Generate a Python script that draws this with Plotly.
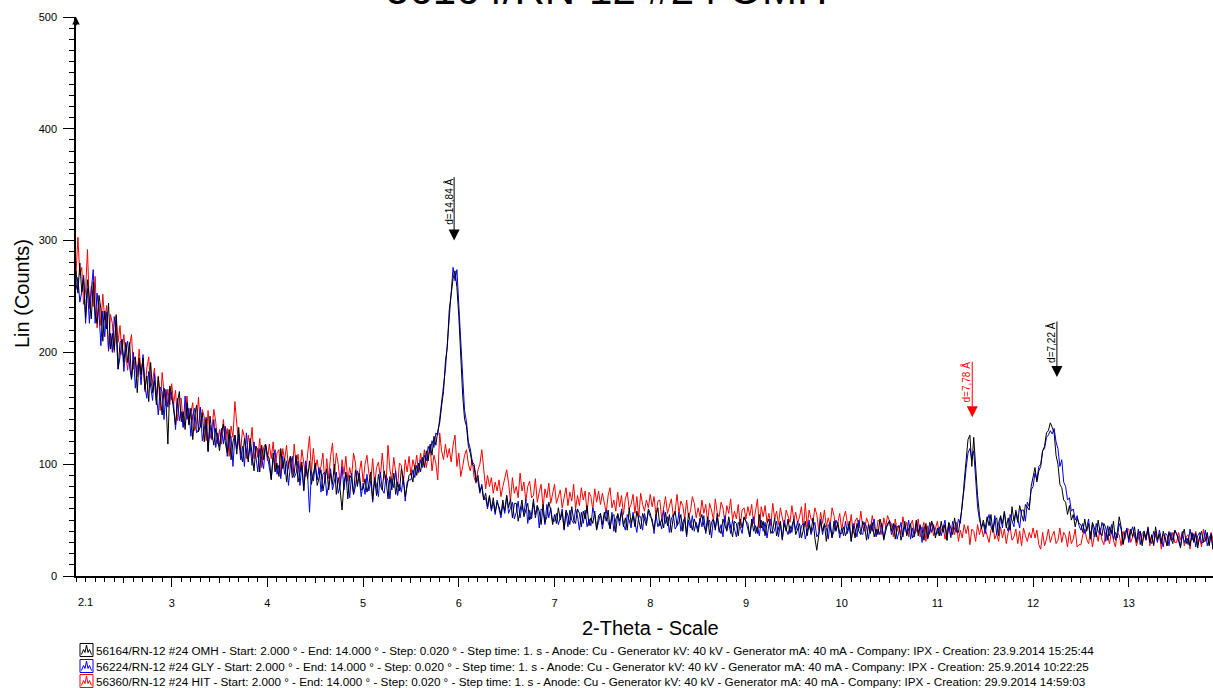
import math
import plotly.graph_objects as go

# ---------------- data ----------------
START = 2.0          # deg 2-theta
STEP = 0.02          # deg
X_RANGE = [2.0, 13.88]
Y_RANGE = [0, 500]

X_TICK_VALUES = [3, 4, 5, 6, 7, 8, 9, 10, 11, 12, 13]
X_TICK_LABELS = ["3", "4", "5", "6", "7", "8", "9", "10", "11", "12", "13"]
X_FIRST_TICK = 2.1
X_FIRST_LABEL = "2.1"
X_HALF_TICKS = [2.5, 3.5, 4.5, 5.5, 6.5, 7.5, 8.5, 9.5, 10.5, 11.5, 12.5, 13.5]
Y_TICK_VALUES = [0, 100, 200, 300, 400, 500]
Y_TICK_LABELS = ["0", "100", "200", "300", "400", "500"]

OMH = [
    273, 253, 280, 254, 266, 231, 265, 250, 230, 263, 235, 226, 251, 239, 210, 237, 221, 244, 203, 217, 202, 233, 185, 209, 211,
    191, 209, 191, 209, 176, 193, 196, 164, 195, 180, 195, 167, 179, 156, 191, 164, 175, 153, 178, 159, 144, 168, 157, 118, 170,
    162, 146, 135, 155, 165, 138, 147, 131, 155, 135, 150, 122, 143, 153, 129, 134, 146, 120, 140, 112, 143, 128, 117, 132, 120,
    112, 129, 136, 119, 110, 131, 104, 120, 126, 109, 133, 110, 102, 123, 113, 102, 123, 107, 94, 116, 113, 93, 117, 104, 118,
    108, 105, 86, 110, 93, 101, 89, 114, 96, 105, 84, 101, 107, 88, 92, 108, 84, 94, 102, 77, 98, 87, 103, 82, 93,
    101, 81, 89, 95, 76, 85, 96, 77, 92, 82, 100, 73, 88, 77, 59, 83, 93, 69, 90, 87, 73, 95, 80, 92, 77,
    78, 87, 75, 82, 93, 68, 88, 72, 91, 81, 77, 94, 86, 69, 89, 77, 92, 73, 84, 76, 96, 87, 71, 79, 90,
    92, 84, 99, 90, 101, 93, 106, 97, 112, 103, 118, 108, 125, 117, 130, 137, 152, 165, 192, 205, 238, 250, 266, 273, 258,
    232, 196, 162, 140, 134, 116, 110, 100, 98, 84, 90, 76, 80, 68, 74, 62, 72, 60, 70, 57, 66, 62, 55, 68, 58,
    72, 61, 69, 52, 65, 65, 49, 58, 68, 53, 60, 65, 50, 55, 69, 52, 63, 58, 46, 64, 48, 53, 66, 59, 46,
    55, 47, 61, 50, 57, 42, 59, 54, 46, 62, 50, 47, 60, 56, 44, 58, 51, 63, 45, 52, 47, 58, 41, 54, 56,
    46, 57, 49, 59, 42, 53, 55, 39, 56, 49, 58, 44, 52, 41, 61, 47, 54, 44, 58, 49, 42, 56, 51, 45, 60,
    56, 48, 42, 54, 61, 45, 51, 43, 57, 45, 55, 39, 52, 58, 45, 48, 55, 40, 53, 37, 56, 48, 41, 51, 44,
    39, 50, 55, 45, 40, 53, 37, 48, 51, 41, 56, 42, 38, 51, 46, 40, 53, 42, 35, 49, 47, 36, 51, 43, 53,
    49, 47, 35, 51, 40, 45, 38, 55, 43, 49, 36, 47, 51, 38, 41, 52, 36, 44, 49, 33, 47, 40, 51, 38, 45,
    51, 37, 43, 47, 34, 41, 49, 36, 46, 39, 52, 34, 23, 36, 49, 40, 47, 31, 46, 44, 34, 49, 40, 48, 38,
    38, 44, 36, 41, 49, 31, 45, 34, 47, 40, 37, 49, 44, 32, 46, 38, 48, 35, 42, 37, 51, 45, 33, 39, 47,
    49, 40, 47, 33, 44, 45, 32, 39, 49, 36, 42, 47, 34, 37, 50, 36, 45, 42, 32, 47, 34, 39, 49, 44, 34,
    43, 36, 49, 39, 46, 32, 48, 43, 37, 52, 41, 39, 51, 62, 84, 104, 122, 126, 98, 124, 96, 72, 55, 42, 50,
    42, 53, 45, 55, 39, 50, 52, 36, 54, 47, 57, 43, 52, 41, 62, 49, 57, 48, 63, 55, 49, 64, 61, 59, 80,
    88, 97, 84, 94, 98, 112, 116, 128, 130, 137, 133, 128, 108, 100, 82, 79, 68, 66, 55, 63, 50, 55, 44, 52, 47,
    46, 39, 51, 40, 47, 33, 48, 43, 35, 50, 39, 36, 47, 43, 32, 44, 38, 49, 32, 39, 53, 44, 28, 40, 41,
    33, 42, 35, 44, 30, 38, 40, 27, 40, 34, 42, 30, 37, 27, 44, 33, 37, 29, 40, 33, 27, 39, 34, 29, 41,
    38, 31, 26, 36, 42, 29, 34, 27, 39, 30, 38, 25, 35, 40, 30, 32, 39, 27, 37, 24, 40, 33, 28, 36, 31,
]

GLY = [
    256, 267, 245, 254, 269, 226, 257, 226, 256, 274, 226, 253, 236, 206, 237, 214, 236, 202, 217, 200, 232, 215, 185, 196, 212,
    183, 202, 210, 187, 176, 200, 168, 187, 191, 171, 198, 170, 159, 183, 170, 157, 181, 159, 144, 169, 165, 140, 167, 151, 167,
    158, 154, 131, 159, 139, 147, 133, 161, 140, 150, 125, 144, 150, 128, 131, 151, 121, 133, 142, 111, 135, 122, 140, 115, 128,
    116, 132, 118, 134, 107, 122, 125, 98, 126, 114, 127, 104, 116, 98, 128, 106, 116, 99, 120, 105, 93, 114, 106, 96, 118,
    109, 97, 87, 105, 113, 91, 99, 87, 107, 91, 103, 81, 99, 107, 88, 92, 103, 81, 99, 76, 103, 90, 57, 94, 85,
    99, 86, 97, 75, 91, 93, 72, 82, 96, 77, 85, 93, 74, 80, 98, 77, 91, 86, 70, 92, 73, 80, 94, 87, 71,
    83, 73, 91, 76, 85, 66, 88, 81, 71, 93, 77, 74, 90, 85, 69, 87, 79, 94, 72, 82, 75, 89, 67, 84, 86,
    86, 95, 88, 99, 93, 104, 97, 108, 103, 116, 110, 121, 115, 128, 126, 140, 155, 172, 185, 208, 230, 258, 276, 264, 274,
    242, 214, 178, 148, 138, 120, 114, 102, 100, 88, 85, 74, 82, 68, 70, 60, 71, 58, 66, 55, 68, 59, 52, 64, 56,
    72, 56, 61, 66, 51, 57, 67, 52, 63, 55, 69, 47, 59, 51, 65, 55, 63, 43, 60, 58, 46, 64, 52, 61, 49,
    49, 56, 46, 52, 60, 41, 57, 44, 59, 50, 47, 60, 54, 41, 57, 47, 59, 44, 51, 45, 61, 54, 42, 48, 56,
    42, 53, 59, 48, 43, 57, 40, 51, 55, 45, 60, 46, 41, 55, 50, 43, 57, 47, 39, 54, 53, 41, 56, 48, 58,
    53, 51, 38, 55, 44, 49, 42, 59, 47, 53, 39, 51, 55, 42, 45, 57, 40, 48, 52, 35, 50, 43, 54, 40, 48,
    42, 52, 44, 54, 38, 48, 50, 34, 51, 43, 52, 39, 46, 35, 54, 41, 48, 38, 50, 42, 35, 48, 44, 38, 52,
    49, 41, 35, 47, 53, 38, 44, 36, 50, 40, 48, 34, 46, 51, 38, 41, 49, 35, 47, 32, 50, 42, 37, 45, 39,
    50, 41, 49, 34, 45, 47, 33, 40, 50, 37, 43, 48, 35, 38, 51, 37, 46, 43, 33, 48, 35, 40, 50, 45, 34,
    43, 36, 49, 38, 45, 31, 47, 42, 35, 50, 39, 37, 48, 44, 33, 46, 40, 51, 35, 42, 37, 47, 32, 44, 45,
    50, 37, 42, 46, 33, 40, 48, 35, 45, 38, 50, 33, 43, 35, 48, 39, 46, 30, 44, 43, 33, 48, 39, 46, 37,
    38, 44, 36, 42, 50, 32, 46, 35, 49, 42, 39, 51, 47, 66, 78, 96, 110, 114, 104, 112, 86, 62, 50, 44, 47,
    38, 49, 55, 44, 40, 54, 37, 48, 53, 43, 58, 45, 40, 55, 50, 44, 59, 50, 43, 59, 59, 49, 66, 62, 77,
    80, 92, 86, 98, 100, 112, 114, 124, 126, 130, 127, 132, 120, 114, 98, 104, 84, 80, 68, 70, 58, 60, 50, 54, 45,
    41, 47, 38, 43, 51, 33, 46, 35, 47, 40, 37, 48, 43, 31, 45, 36, 46, 33, 39, 34, 47, 42, 29, 35, 43,
    30, 39, 44, 35, 31, 42, 28, 38, 40, 32, 44, 33, 29, 40, 36, 30, 41, 32, 26, 38, 37, 27, 39, 32, 41,
    37, 35, 25, 39, 30, 34, 28, 42, 32, 38, 26, 36, 39, 29, 31, 41, 27, 34, 38, 24, 36, 31, 40, 28, 35,
]

HIT = [
    270, 303, 269, 276, 243, 255, 292, 239, 259, 241, 268, 222, 244, 224, 252, 229, 242, 201, 234, 226, 200, 234, 209, 224, 198,
    216, 198, 184, 206, 216, 185, 196, 178, 203, 180, 195, 165, 186, 196, 169, 174, 186, 157, 179, 148, 182, 164, 152, 167, 153,
    172, 154, 166, 139, 158, 159, 133, 144, 161, 136, 146, 155, 130, 137, 160, 133, 149, 142, 121, 148, 123, 131, 149, 138, 118,
    131, 118, 140, 122, 132, 107, 134, 124, 156, 136, 118, 112, 131, 124, 105, 126, 115, 133, 105, 116, 106, 123, 97, 115, 118,
    103, 118, 105, 120, 96, 110, 113, 90, 114, 104, 117, 96, 107, 91, 118, 99, 109, 93, 113, 100, 89, 109, 125, 93, 114,
    95, 104, 91, 98, 110, 83, 105, 87, 107, 119, 91, 110, 100, 82, 104, 91, 107, 85, 97, 88, 110, 101, 82, 91, 103,
    84, 100, 108, 92, 85, 105, 81, 97, 102, 88, 110, 90, 83, 117, 95, 86, 106, 91, 80, 101, 99, 82, 104, 93, 107,
    90, 104, 96, 108, 92, 110, 99, 113, 97, 106, 116, 94, 108, 101, 86, 128, 112, 104, 118, 106, 114, 102, 117, 126, 98,
    110, 89, 98, 108, 113, 100, 94, 104, 88, 83, 95, 100, 113, 92, 78, 90, 80, 88, 74, 84, 76, 86, 71, 80, 88,
    95, 83, 67, 88, 74, 80, 70, 92, 76, 84, 67, 80, 85, 70, 72, 87, 66, 75, 82, 61, 78, 70, 83, 65, 75,
    82, 65, 72, 77, 61, 69, 79, 63, 75, 67, 82, 60, 72, 63, 79, 68, 76, 56, 75, 71, 59, 78, 66, 76, 64,
    74, 65, 57, 72, 79, 61, 68, 58, 75, 62, 72, 55, 69, 75, 60, 64, 73, 56, 71, 52, 74, 64, 58, 68, 61,
    73, 62, 71, 54, 67, 68, 51, 60, 71, 56, 63, 69, 54, 58, 73, 56, 67, 63, 51, 68, 53, 58, 71, 65, 52,
    61, 53, 68, 56, 64, 48, 65, 59, 50, 69, 56, 53, 66, 61, 48, 63, 56, 69, 50, 58, 51, 64, 45, 59, 61,
    51, 62, 54, 64, 47, 58, 69, 43, 62, 53, 63, 48, 56, 45, 65, 51, 58, 46, 61, 52, 44, 59, 54, 48, 63,
    50, 57, 47, 53, 62, 42, 65, 44, 59, 51, 48, 61, 55, 41, 57, 47, 59, 44, 52, 45, 61, 54, 41, 48, 56,
    41, 52, 58, 47, 42, 55, 38, 49, 52, 43, 58, 44, 40, 52, 47, 41, 54, 44, 36, 50, 48, 37, 52, 44, 54,
    49, 47, 35, 51, 40, 45, 37, 53, 42, 48, 35, 46, 50, 37, 40, 51, 35, 43, 48, 31, 45, 38, 49, 36, 43,
    49, 36, 41, 45, 33, 39, 47, 34, 44, 37, 48, 31, 41, 34, 46, 38, 45, 28, 42, 40, 31, 46, 37, 44, 35,
    42, 35, 30, 41, 46, 33, 38, 31, 44, 34, 42, 29, 39, 44, 32, 35, 42, 29, 40, 27, 43, 36, 31, 39, 34,
    43, 34, 41, 28, 24, 39, 27, 33, 42, 30, 36, 40, 29, 32, 43, 30, 39, 36, 26, 40, 29, 33, 42, 26, 28,
    28, 37, 42, 33, 29, 40, 26, 36, 39, 31, 43, 32, 28, 39, 35, 29, 41, 32, 26, 38, 37, 27, 40, 33, 42,
    42, 30, 35, 39, 27, 33, 40, 29, 37, 32, 43, 27, 36, 28, 40, 32, 38, 24, 37, 35, 27, 40, 32, 39, 30,
    30, 39, 32, 40, 27, 35, 37, 24, 38, 32, 40, 28, 35, 26, 42, 31, 36, 28, 39, 32, 26, 38, 34, 29, 41,
]

assert len(OMH) == 600 and len(GLY) == 600 and len(HIT) == 600, (len(OMH), len(GLY), len(HIT))

SERIES_NAMES = ["56164/RN-12 #24 OMH", "56224/RN-12 #24 GLY", "56360/RN-12 #24 HIT"]
SERIES_COLORS = ["#000000", "#0000ff", "#ff0000"]
CREATION = ["23.9.2014 15:25:44", "25.9.2014 10:22:25", "29.9.2014 14:59:03"]
META = ("Start: 2.000 ° - End: 14.000 ° - Step: 0.020 ° - Step time: 1. s - Anode: Cu - "
        "Generator kV: 40 kV - Generator mA: 40 mA - Company: IPX - Creation: ")

WAVELENGTH = 1.5406  # Cu K-alpha, Angstrom
PEAK_D = [14.84, 7.22, 7.78]
PEAK_LABELS = ["d=14,84 Å", "d=7,22 Å", "d=7,78 Å"]
PEAK_COLORS = ["#000000", "#000000", "#ff0000"]
PEAK_TIP_COUNTS = [300, 178, 142]

TITLE = "56164/RN-12 #24 OMH"
FONT = "Arial, Liberation Sans, sans-serif"

# ---------------- layout helpers (pixel -> paper) ----------------
W, H = 1213, 688
ML, MR, MT, MB = 76, 0, 17, 112
PW, PH = W - ML - MR, H - MT - MB


def pxx(p):
    return (p - ML) / PW


def pxy(p):
    return (MT + PH - p) / PH


fig = go.Figure()

xs = [START + STEP * i for i in range(600)]
# draw red first, then blue, then black on top
for idx in [2, 1, 0]:
    ys = [OMH, GLY, HIT][idx]
    fig.add_trace(go.Scatter(x=xs, y=ys, mode="lines", name=SERIES_NAMES[idx],
                             line=dict(color=SERIES_COLORS[idx], width=1),
                             showlegend=False, hoverinfo="skip"))

# helper empty traces so the overlay tick axes render
fig.add_trace(go.Scatter(x=[], y=[], xaxis="x2", showlegend=False))
fig.add_trace(go.Scatter(x=[], y=[], xaxis="x3", showlegend=False))

tickfont = dict(family=FONT, size=11, color="#000000")

fig.update_layout(
    width=W, height=H,
    template="none",
    margin=dict(l=ML, r=MR, t=MT, b=MB, pad=0),
    paper_bgcolor="white", plot_bgcolor="white",
    showlegend=False,
    xaxis=dict(range=X_RANGE, showgrid=False, zeroline=False, showline=True,
               linecolor="black", linewidth=1.5, automargin=False,
               tickmode="array", tickvals=X_TICK_VALUES, ticktext=X_TICK_LABELS,
               ticks="outside", ticklen=9, tickwidth=1, tickcolor="black",
               tickfont=tickfont, ticklabelstandoff=7,
               minor=dict(ticks="outside", ticklen=4, tickwidth=1, tickcolor="black",
                          tickmode="linear", tick0=2.0, dtick=0.1, showgrid=False)),
    xaxis2=dict(range=X_RANGE, matches="x", overlaying="x", anchor="y", side="bottom",
                showgrid=False, zeroline=False, showline=False, automargin=False,
                tickmode="array", tickvals=X_HALF_TICKS, ticktext=[""] * len(X_HALF_TICKS),
                ticks="outside", ticklen=6, tickwidth=1, tickcolor="black"),
    xaxis3=dict(range=X_RANGE, matches="x", overlaying="x", anchor="y", side="bottom",
                showgrid=False, zeroline=False, showline=False, automargin=False,
                tickmode="array", tickvals=[X_FIRST_TICK], ticktext=[X_FIRST_LABEL],
                ticks="outside", ticklen=4, tickwidth=1, tickcolor="black",
                tickfont=tickfont, ticklabelstandoff=12),
    yaxis=dict(range=Y_RANGE, showgrid=False, zeroline=False, showline=True,
               linecolor="black", linewidth=1.5, automargin=False,
               tickmode="array", tickvals=Y_TICK_VALUES, ticktext=Y_TICK_LABELS,
               ticks="outside", ticklen=11, tickwidth=1, tickcolor="black",
               tickfont=tickfont, ticklabelstandoff=4,
               minor=dict(ticks="outside", ticklen=5, tickwidth=1, tickcolor="black",
                          tickmode="linear", tick0=0, dtick=10, showgrid=False)),
)

ann = []
# title (cut off at the top)
ann.append(dict(text=TITLE, xref="paper", yref="paper", x=pxx(W / 2), y=pxy(15),
                xanchor="center", yanchor="bottom", showarrow=False,
                font=dict(family=FONT, size=42, color="black")))
# axis titles
ann.append(dict(text="2-Theta - Scale", xref="paper", yref="paper", x=pxx(650), y=pxy(628),
                xanchor="center", yanchor="middle", showarrow=False,
                font=dict(family=FONT, size=20, color="black")))
ann.append(dict(text="Lin (Counts)", xref="paper", yref="paper", x=pxx(22), y=pxy(294),
                xanchor="center", yanchor="middle", showarrow=False, textangle=-90,
                font=dict(family=FONT, size=20, color="black")))
# y-axis arrow head
ann.append(dict(text="", xref="paper", yref="paper", x=0, y=1, ax=0, ay=10,
                showarrow=True, arrowhead=2, arrowsize=1, arrowwidth=1.5, arrowcolor="black"))

# d-spacing markers
for d, lab, col, tip, ln, shift in zip(PEAK_D, PEAK_LABELS, PEAK_COLORS, PEAK_TIP_COUNTS,
                                       [65, 57, 57], [39, 35, 35]):
    tt = 2 * math.degrees(math.asin(WAVELENGTH / (2 * d)))
    ann.append(dict(text="", x=tt, y=tip, xref="x", yref="y", ax=0, ay=-ln,
                    showarrow=True, arrowhead=2, arrowsize=2.2, arrowwidth=1,
                    arrowcolor=col, standoff=0))
    ann.append(dict(text=lab, x=tt, y=tip, xref="x", yref="y", showarrow=False,
                    textangle=-90, xanchor="center", yanchor="middle",
                    xshift=-6, yshift=shift,
                    font=dict(family=FONT, size=10, color=col)))

# bottom legend text
rows_y = [650, 666, 681]
shapes = []
for name, col, cr, ry in zip(SERIES_NAMES, SERIES_COLORS, CREATION, rows_y):
    ann.append(dict(text=f"{name} - {META}{cr}", xref="paper", yref="paper",
                    x=pxx(94), y=pxy(ry), xanchor="left", yanchor="middle", showarrow=False,
                    font=dict(family=FONT, size=11.7, color="black")))
    shapes.append(dict(type="rect", xref="paper", yref="paper",
                       x0=pxx(80), x1=pxx(93), y0=pxy(ry + 6.5), y1=pxy(ry - 6.5),
                       line=dict(color=col, width=1), fillcolor="rgba(0,0,0,0)"))
    pts = [(81.5, 4.5), (83.5, -0.5), (85, 2.5), (86.5, -5), (88, 2.5), (89.5, -0.5), (91.5, 4.5)]
    path = "M " + " L ".join(f"{pxx(px)},{pxy(ry + py)}" for px, py in pts)
    shapes.append(dict(type="path", xref="paper", yref="paper", path=path,
                       line=dict(color=col, width=1)))

fig.update_layout(annotations=ann, shapes=shapes)

fig.write_html("out.html")
